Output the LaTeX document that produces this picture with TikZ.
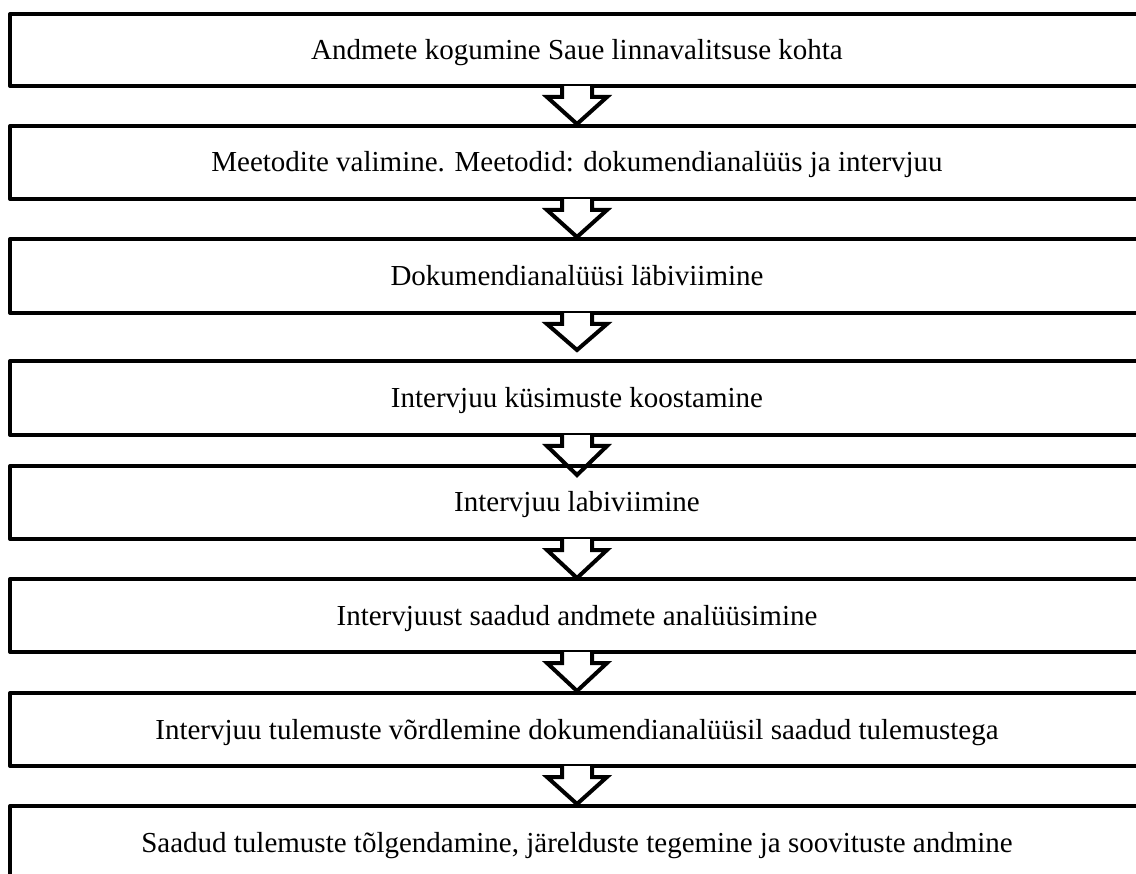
\documentclass[tikz,border=0pt]{standalone}
\usepackage{fontspec}
\setmainfont{Liberation Serif}
\usetikzlibrary{calc}
\tikzset{
  stepbox/.style={draw, line width=4pt, line join=round, rectangle,
    minimum width=1134pt, inner sep=0pt, text height=19pt, text depth=0pt,
    font=\fontsize{29}{34}\selectfont},
  arrowline/.style={draw, line width=4pt, line join=miter}
}
\newcommand\blockarrow[3]{%
  \fill[white] ($(#1.south)+(-15,-2)$) rectangle ($(#1.south)+(15,9)$);
  \draw[arrowline] ($(#1.south)+(-15,-2)$) -- ($(#1.south)+(-15,9)$) -- ($(#1.south)+(-30,9)$)
     -- ($(#2.north)+(0,#3)$) -- ($(#1.south)+(30,9)$) -- ($(#1.south)+(15,9)$) -- ($(#1.south)+(15,-2)$);}
\begin{document}
\begin{tikzpicture}[x=1pt,y=-1pt]
\useasboundingbox (0,0) rectangle (1136,874);
\clip (0,0) rectangle (1136,874);
\node[stepbox, minimum height=72pt] (b1) at (577,50) {Andmete kogumine Saue linnavalitsuse kohta};
\node[stepbox, minimum height=73pt] (b2) at (577,162.5) {Meetodite valimine. Meetodid: dokumendianalüüs ja intervjuu};
\node[stepbox, minimum height=74pt] (b3) at (577,276) {Dokumendianalüüsi läbiviimine};
\node[stepbox, minimum height=74pt] (b4) at (577,398) {Intervjuu küsimuste koostamine};
\node[stepbox, minimum height=73pt] (b5) at (577,502.5) {Intervjuu labiviimine};
\node[stepbox, minimum height=73pt] (b6) at (577,615.5) {Intervjuust saadud andmete analüüsimine};
\node[stepbox, minimum height=73pt] (b7) at (577,729.5) {Intervjuu tulemuste võrdlemine dokumendianalüüsil saadud tulemustega};
\node[stepbox, minimum height=74pt] (b8) at (577,843) {Saadud tulemuste tõlgendamine, järelduste tegemine ja soovituste andmine};
\blockarrow{b1}{b2}{0}
\blockarrow{b2}{b3}{0}
\blockarrow{b3}{b4}{-9}
\blockarrow{b4}{b5}{11}
\blockarrow{b5}{b6}{1}
\blockarrow{b6}{b7}{0}
\blockarrow{b7}{b8}{0}
\end{tikzpicture}
\end{document}
